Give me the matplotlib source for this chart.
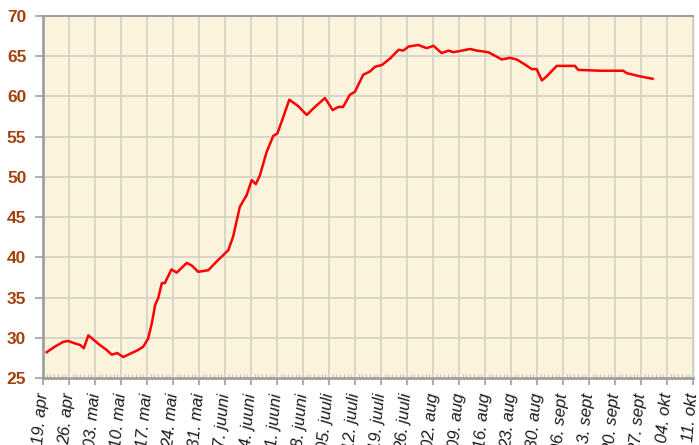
"""Weekly price trend, 19. apr - 11. okt."""
import matplotlib

matplotlib.use("Agg")
import matplotlib.pyplot as plt
from matplotlib.ticker import MultipleLocator

# days since 19. apr, and the value read for that day
day_offset = [
    1.0, 3.2, 5.5, 6.8, 8.6, 10.0, 11.0, 12.2, 13.5, 15.3, 17.1, 18.5, 20.0,
    21.6, 23.4, 25.7, 27.0, 28.3, 29.3, 30.2, 31.0, 32.0, 32.8, 34.6, 36.0,
    38.7, 40.0, 41.8, 44.5, 46.8, 49.9, 51.2, 53.0, 54.8, 56.2, 57.3, 58.4,
    60.2, 62.0, 63.1, 64.5, 66.3, 68.7, 71.0, 73.2, 75.9, 78.0, 79.5, 80.8,
    82.6, 84.0, 86.2, 88.0, 89.4, 91.2, 93.4, 95.7, 97.0, 98.4, 101.0, 103.3,
    105.1, 107.3, 109.2, 110.5, 115.0, 116.8, 119.9, 123.5, 125.7, 127.5,
    129.3, 131.6, 132.9, 134.3, 135.6, 138.3, 143.2, 144.1, 150.0, 156.2,
    157.1, 160.7, 164.1,
]
value = [
    28.2, 28.9, 29.5, 29.6, 29.3, 29.1, 28.7, 30.3, 29.8, 29.1, 28.5, 27.9,
    28.1, 27.6, 28.0, 28.5, 28.9, 29.9, 31.8, 34.1, 34.9, 36.8, 36.8, 38.5,
    38.1, 39.3, 39.0, 38.2, 38.4, 39.5, 40.9, 42.6, 46.3, 47.7, 49.6, 49.1,
    50.2, 53.1, 55.1, 55.4, 57.2, 59.6, 58.8, 57.7, 58.7, 59.8, 58.3, 58.7,
    58.7, 60.2, 60.6, 62.7, 63.1, 63.7, 63.9, 64.7, 65.8, 65.7, 66.2, 66.4,
    66.0, 66.3, 65.4, 65.7, 65.5, 65.9, 65.7, 65.5, 64.6, 64.8, 64.6, 64.1,
    63.4, 63.4, 62.0, 62.5, 63.8, 63.8, 63.3, 63.2, 63.2, 62.9, 62.5, 62.2,
]

week_labels = [
    "19. apr", "26. apr", "03. mai", "10. mai", "17. mai", "24. mai",
    "31. mai", "07. juuni", "14. juuni", "21. juuni", "28. juuni",
    "05. juuli", "12. juuli", "19. juuli", "26. juuli", "02. aug",
    "09. aug", "16. aug", "23. aug", "30. aug", "06. sept", "13. sept",
    "20. sept", "27. sept", "04. okt", "11. okt",
]

plt.rcParams["font.family"] = ["Liberation Sans", "DejaVu Sans"]

fig = plt.figure(figsize=(6.99, 4.45), dpi=100)
ax = fig.add_axes([0.0615, 0.1506, 0.93, 0.8134])
ax.set_facecolor("#FCF3DC")

ax.plot(day_offset, value, color="#FF0000", lw=1.8, solid_joinstyle="round")

week_pos = [7 * i for i in range(len(week_labels))]
ax.set_xlim(0, week_pos[-1])
ax.set_ylim(25, 70)
ax.set_xticks(week_pos)
ax.set_xticklabels(week_labels, rotation=85, ha="right", va="center",
                   rotation_mode="anchor", fontsize=12, style="italic",
                   color="#1A1A1A")
ax.xaxis.set_minor_locator(MultipleLocator(1))
ax.yaxis.set_major_locator(MultipleLocator(5))
for lab in ax.get_yticklabels():
    lab.set_fontweight("bold")

ax.tick_params(axis="y", which="major", direction="out", length=6,
               color="#A0A0A0", width=1.2, labelsize=12.5,
               labelcolor="#A3410B", pad=6)
ax.tick_params(axis="x", which="major", direction="out", length=5,
               color="#A0A0A0", width=1.2, pad=6)
ax.tick_params(axis="x", which="minor", direction="in", length=3,
               color="#C8C2B0", width=0.8)

ax.grid(True, which="major", color="#D3CFC4", lw=1.2)
ax.set_axisbelow(True)

for side in ["left", "bottom"]:
    ax.spines[side].set_color("#A0A0A0")
    ax.spines[side].set_linewidth(2)
ax.spines["top"].set_color("#A0A0A0")
ax.spines["top"].set_linewidth(1.5)
ax.spines["right"].set_color("#C8C8C8")
ax.spines["right"].set_linewidth(1)

fig.savefig("out.png", dpi=100)
